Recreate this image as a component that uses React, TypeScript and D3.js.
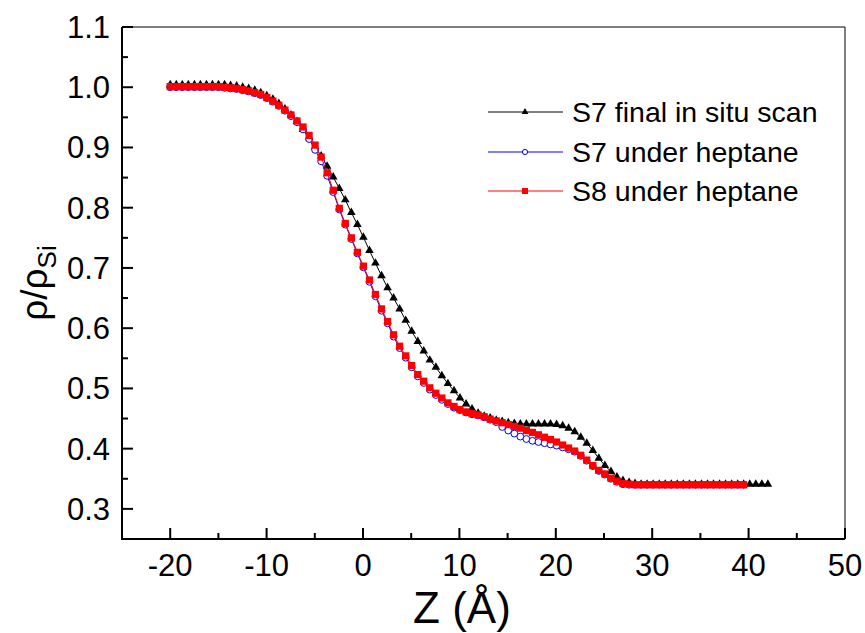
import { scaleLinear, line, symbol, symbolTriangle, symbolSquare } from "d3";

// depth grid (Å), shared by all three profiles
const zGrid = [
  -20.0, -19.37, -18.75, -18.12, -17.49, -16.87, -16.24, -15.62, -14.99, -14.36,
  -13.74, -13.11, -12.48, -11.86, -11.23, -10.61, -9.98, -9.35, -8.73, -8.1,
  -7.47, -6.85, -6.22, -5.59, -4.97, -4.34, -3.72, -3.09, -2.46, -1.84,
  -1.21, -0.58, 0.04, 0.67, 1.29, 1.92, 2.55, 3.17, 3.8, 4.43,
  5.05, 5.68, 6.3, 6.93, 7.56, 8.18, 8.81, 9.44, 10.06, 10.69,
  11.31, 11.94, 12.57, 13.19, 13.82, 14.44, 15.07, 15.7, 16.32, 16.95,
  17.58, 18.2, 18.83, 19.45, 20.08, 20.71, 21.33, 21.96, 22.59, 23.21,
  23.84, 24.46, 25.09, 25.72, 26.34, 26.97, 27.6, 28.22, 28.85, 29.47,
  30.1, 30.73, 31.35, 31.98, 32.6, 33.23, 33.86, 34.48, 35.11, 35.74,
  36.36, 36.99, 37.61, 38.24, 38.87, 39.49, 40.12, 40.75, 41.37, 42.0,
];

const s7Final = [
  1.004, 1.004, 1.004, 1.004, 1.004, 1.004, 1.004, 1.004, 1.004, 1.004,
  1.003, 1.002, 1.0, 0.998, 0.995, 0.991, 0.986, 0.98, 0.973, 0.964,
  0.954, 0.943, 0.93, 0.916, 0.901, 0.886, 0.869, 0.851, 0.832, 0.813,
  0.792, 0.772, 0.751, 0.729, 0.708, 0.687, 0.667, 0.65, 0.632, 0.613,
  0.595, 0.578, 0.562, 0.547, 0.535, 0.521, 0.508, 0.496, 0.484, 0.474,
  0.466, 0.459, 0.454, 0.451, 0.447, 0.445, 0.443, 0.442, 0.441, 0.441,
  0.441, 0.441, 0.441, 0.441, 0.44, 0.438, 0.434, 0.428, 0.419, 0.409,
  0.397, 0.384, 0.372, 0.362, 0.353, 0.347, 0.344, 0.342, 0.341, 0.341,
  0.341, 0.341, 0.341, 0.341, 0.341, 0.341, 0.341, 0.341, 0.341, 0.341,
  0.341, 0.341, 0.341, 0.341, 0.341, 0.341, 0.341, 0.341, 0.341, 0.341,
];

const s7Heptane = [
  1.0, 1.0, 1.0, 1.0, 1.0, 1.0, 1.0, 1.0, 1.0, 0.999,
  0.998, 0.997, 0.995, 0.993, 0.99, 0.987, 0.982, 0.976, 0.969, 0.961,
  0.952, 0.942, 0.93, 0.914, 0.896, 0.877, 0.853, 0.826, 0.797, 0.772,
  0.748, 0.724, 0.701, 0.677, 0.653, 0.629, 0.608, 0.586, 0.567, 0.551,
  0.535, 0.52, 0.509, 0.498, 0.489, 0.481, 0.474, 0.468, 0.464, 0.46,
  0.457, 0.455, 0.452, 0.448, 0.444, 0.436, 0.43, 0.425, 0.42, 0.416,
  0.413, 0.411, 0.409, 0.407, 0.405, 0.402, 0.399, 0.395, 0.388, 0.38,
  0.371, 0.363, 0.357, 0.35, 0.345, 0.341, 0.34, 0.34, 0.34, 0.34,
  0.34, 0.34, 0.34, 0.34, 0.34, 0.34, 0.34, 0.34, 0.34, 0.34,
  0.34, 0.34, 0.34, 0.34, 0.34, 0.34,
];

const s8Heptane = [
  1.001, 1.001, 1.001, 1.001, 1.001, 1.001, 1.001, 1.001, 1.001, 1.0,
  0.999, 0.998, 0.996, 0.994, 0.991, 0.988, 0.983, 0.977, 0.97, 0.962,
  0.954, 0.944, 0.934, 0.92, 0.904, 0.884, 0.858, 0.829, 0.799, 0.774,
  0.75, 0.726, 0.703, 0.68, 0.656, 0.632, 0.611, 0.589, 0.57, 0.554,
  0.538, 0.523, 0.512, 0.501, 0.492, 0.484, 0.476, 0.47, 0.465, 0.461,
  0.458, 0.456, 0.453, 0.449, 0.446, 0.443, 0.44, 0.437, 0.434, 0.43,
  0.427, 0.423, 0.419, 0.415, 0.411, 0.406, 0.401, 0.396, 0.389, 0.381,
  0.372, 0.364, 0.358, 0.351, 0.346, 0.342, 0.341, 0.34, 0.34, 0.34,
  0.34, 0.34, 0.34, 0.34, 0.34, 0.34, 0.34, 0.34, 0.34, 0.34,
  0.34, 0.34, 0.34, 0.34, 0.34, 0.34,
];

const seriesNames = ["S7 final in situ scan", "S7 under heptane", "S8 under heptane"];
const xTicks = [-20, -10, 0, 10, 20, 30, 40, 50];
const xMinor = [-15, -5, 5, 15, 25, 35, 45];
const yTicks = [0.3, 0.4, 0.5, 0.6, 0.7, 0.8, 0.9, 1.0, 1.1];
const yMinor = [0.35, 0.45, 0.55, 0.65, 0.75, 0.85, 0.95, 1.05];

const W = 865;
const H = 633;
const plot = { left: 122, right: 845, top: 27, bottom: 539 };
const font = "'Liberation Sans', Arial, sans-serif";

export default function App() {
  const x = scaleLinear().domain([-25, 50]).range([plot.left, plot.right]);
  const y = scaleLinear().domain([0.25, 1.1]).range([plot.bottom, plot.top]);

  const pts = (vals: number[]) => vals.map((v, i) => [zGrid[i], v] as [number, number]);
  const path = line<[number, number]>()
    .x((d) => x(d[0]))
    .y((d) => y(d[1]));

  const tri = symbol().type(symbolTriangle).size(32)()!;
  const sq = symbol().type(symbolSquare).size(52)()!;
  const triSmall = symbol().type(symbolTriangle).size(20)()!;
  const sqSmall = symbol().type(symbolSquare).size(36)()!;

  const black = pts(s7Final);
  const blue = pts(s7Heptane);
  const red = pts(s8Heptane);

  const legendY = [112, 152, 191];

  return (
    <svg
      width={W}
      height={H}
      style={{ position: "absolute", left: 0, top: 0, background: "#fff" }}
      fontFamily={font}
    >
      {/* S7 final */}
      <path d={path(black)!} fill="none" stroke="#000" strokeWidth={1} />
      {black.map((d, i) => (
        <path key={"b" + i} d={tri} transform={`translate(${x(d[0])},${y(d[1])})`} fill="#000" />
      ))}
      {/* S7 heptane */}
      <path d={path(blue)!} fill="none" stroke="#0000ff" strokeWidth={1} />
      {blue.map((d, i) => (
        <circle key={"c" + i} cx={x(d[0])} cy={y(d[1])} r={3.4} fill="#fff" stroke="#0000ff" strokeWidth={1} />
      ))}
      {/* S8 heptane */}
      <path d={path(red)!} fill="none" stroke="#ff0000" strokeWidth={1} />
      {red.map((d, i) => (
        <path key={"r" + i} d={sq} transform={`translate(${x(d[0])},${y(d[1])})`} fill="#ff0000" />
      ))}

      {/* frame */}
      <line x1={plot.left} x2={plot.right} y1={plot.top} y2={plot.top} stroke="#000" strokeWidth={1} />
      <line x1={plot.right} x2={plot.right} y1={plot.top} y2={plot.bottom} stroke="#000" strokeWidth={1} />
      <line x1={plot.left} x2={plot.left} y1={plot.top} y2={plot.bottom + 1} stroke="#000" strokeWidth={2} />
      <line x1={plot.left - 1} x2={plot.right} y1={plot.bottom} y2={plot.bottom} stroke="#000" strokeWidth={2} />

      {/* x ticks */}
      {xTicks.map((t) => (
        <g key={"xt" + t}>
          <line x1={x(t)} x2={x(t)} y1={plot.bottom} y2={plot.bottom - 11} stroke="#000" strokeWidth={2} />
          <text x={x(t)} y={576} textAnchor="middle" fontSize={31}>
            {t}
          </text>
        </g>
      ))}
      {xMinor.map((t) => (
        <line key={"xm" + t} x1={x(t)} x2={x(t)} y1={plot.bottom} y2={plot.bottom - 6} stroke="#000" strokeWidth={2} />
      ))}

      {/* y ticks */}
      {yTicks.map((t) => (
        <g key={"yt" + t}>
          <line x1={plot.left} x2={plot.left + 11} y1={y(t)} y2={y(t)} stroke="#000" strokeWidth={2} />
          <text x={110} y={y(t) + 11} textAnchor="end" fontSize={31}>
            {t.toFixed(1)}
          </text>
        </g>
      ))}
      {yMinor.map((t) => (
        <line key={"ym" + t} x1={plot.left} x2={plot.left + 6} y1={y(t)} y2={y(t)} stroke="#000" strokeWidth={2} />
      ))}

      {/* axis titles */}
      <text x={462} y={623} textAnchor="middle" fontSize={44}>
        Z (Å)
      </text>
      <text transform="translate(47,283) rotate(-90)" textAnchor="middle" fontSize={37}>
        ρ/ρ
        <tspan fontSize={26} dy={9}>
          Si
        </tspan>
      </text>

      {/* legend */}
      {seriesNames.map((name, i) => {
        const ly = legendY[i];
        const col = ["#000", "#0000ff", "#ff0000"][i];
        return (
          <g key={name}>
            <line x1={488} x2={563} y1={ly} y2={ly} stroke={col} strokeWidth={1} />
            {i === 0 && <path d={triSmall} transform={`translate(525,${ly})`} fill="#000" />}
            {i === 1 && <circle cx={525} cy={ly} r={2.6} fill="#fff" stroke="#0000ff" strokeWidth={1} />}
            {i === 2 && <path d={sqSmall} transform={`translate(525,${ly})`} fill="#ff0000" />}
            <text x={572} y={ly + 10} fontSize={28.5}>
              {name}
            </text>
          </g>
        );
      })}
    </svg>
  );
}
